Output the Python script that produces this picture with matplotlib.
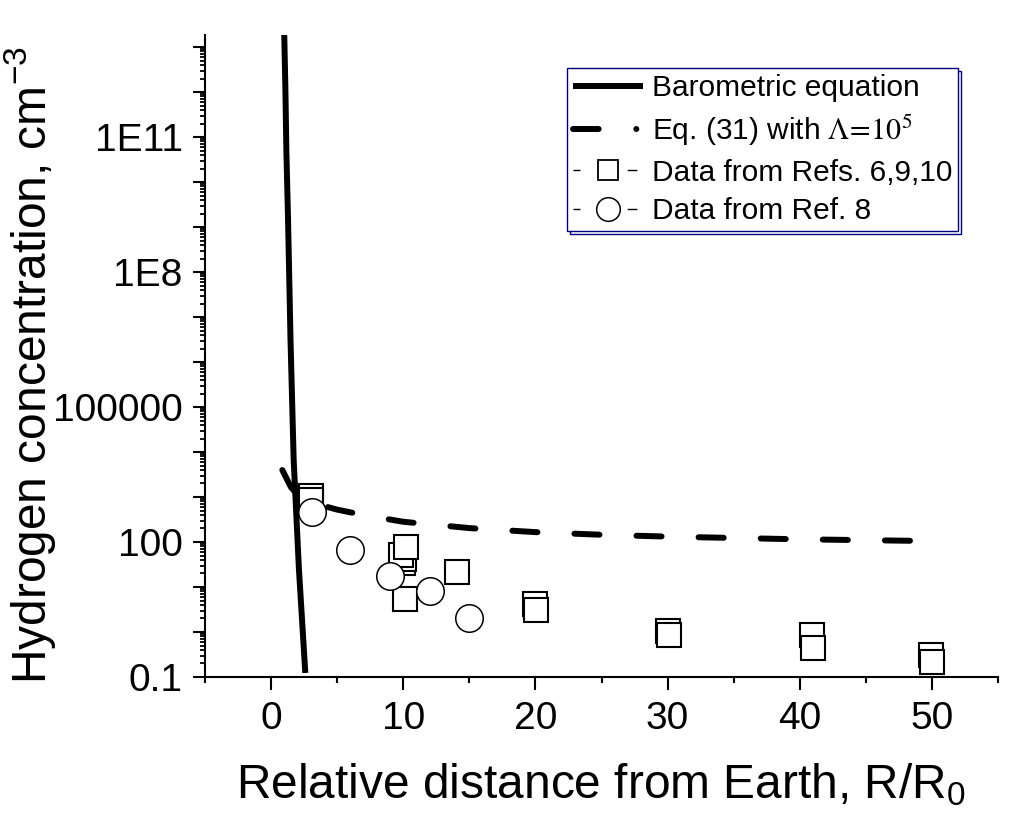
import numpy as np
import matplotlib
matplotlib.use("Agg")
import matplotlib.pyplot as plt
from matplotlib.lines import Line2D
from matplotlib.ticker import FixedLocator, FixedFormatter, LogLocator, MultipleLocator, NullFormatter

plt.rcParams['font.family'] = ['Liberation Sans', 'DejaVu Sans']
plt.rcParams['mathtext.fontset'] = 'stix'

# ---- data ----
baro_x = [0.98, 1.00, 1.08, 1.16, 1.28, 1.47, 1.71, 2.11, 2.59]
baro_y = [3.0e13, 1.66e13, 1.29e12, 4.4e10, 1.66e9, 3.1e6, 6.6e3, 24.0, 0.123]

eq31_x = [0.85, 1.5, 2, 3, 4, 5, 7, 10, 15, 20, 25, 30, 35, 40, 45, 50]
eq31_y = [3981, 1660, 1122, 794, 631, 525, 398, 282, 204, 166, 145, 132, 123, 115, 110, 105]

refs_x = [3.0, 3.0, 9.95, 10.05, 9.85, 10.2, 10.1, 14.05, 19.95, 20.04,
          30.02, 30.14, 40.95, 41.03, 49.92, 50.02]
refs_y = [1070, 870, 34, 43, 52, 77, 5.4, 21.5, 4.2, 3.16,
          1.08, 0.87, 0.86, 0.43, 0.31, 0.22]

ref8_x = [3.1, 6.0, 9.0, 12.0, 15.0]
ref8_y = [464, 65, 17.4, 8.0, 2.1]

labels = ["Barometric equation", r"Eq. (31) with $\Lambda\!=\!10^5$",
          "Data from Refs. 6,9,10", "Data from Ref. 8"]
xlabel = r"Relative distance from Earth, R/R$\mathregular{_0}$"
ylabel = r"Hydrogen concentration, cm$\mathregular{^{-3}}$"

y_major = [10.0 ** k for k in range(-1, 14)]
y_major_labels = ["0.1", "", "", "100", "", "", "100000", "", "", "1E8", "", "", "1E11", "", ""]
x_major = [0, 10, 20, 30, 40, 50]

# ---- figure ----
W, H = 1011, 817
fig = plt.figure(figsize=(W / 100, H / 100), dpi=100)
ax_l, ax_b, ax_w, ax_h = 205 / W, 1 - 677 / H, (998 - 205) / W, (677 - 35) / H
ax = fig.add_axes([ax_l, ax_b, ax_w, ax_h])

ax.plot(baro_x, baro_y, color='black', lw=4.3, solid_capstyle='butt', zorder=3)
ax.plot(eq31_x, eq31_y, color='black', lw=4.3, dash_capstyle='round',
        linestyle=(0, (4.2, 6.2)), zorder=3)
ax.plot(refs_x, refs_y, linestyle='none', marker='s', ms=17.3, mew=1.5,
        mfc='white', mec='black', zorder=4)
ax.plot(ref8_x, ref8_y, linestyle='none', marker='o', ms=19.8, mew=1.1,
        mfc='white', mec='black', zorder=5)

ax.set_yscale('log')
ax.set_xlim(-5, 55)
ax.set_ylim(0.1, 1.86e13)

ax.yaxis.set_major_locator(FixedLocator(y_major))
ax.yaxis.set_major_formatter(FixedFormatter(y_major_labels))
ax.yaxis.set_minor_locator(LogLocator(base=10, subs=np.arange(2, 10), numticks=100))
ax.yaxis.set_minor_formatter(NullFormatter())
ax.xaxis.set_major_locator(FixedLocator(x_major))
ax.xaxis.set_minor_locator(MultipleLocator(5))

for s in ['top', 'right']:
    ax.spines[s].set_visible(False)
for s in ['left', 'bottom']:
    ax.spines[s].set_linewidth(1.5)

ax.tick_params(axis='both', which='major', direction='out', length=9, width=1.5,
               labelsize=28)
ax.tick_params(axis='y', which='major', pad=7)
ax.tick_params(axis='x', which='major', pad=8)
ax.tick_params(axis='y', which='minor', direction='out', length=3.8, width=1.3)
ax.tick_params(axis='x', which='minor', direction='out', length=4.3, width=1.5)

ax.set_xlabel(xlabel, fontsize=34.5, labelpad=18)
ax.set_ylabel(ylabel, fontsize=34.5)
ax.yaxis.set_label_coords((58 - 205) / (998 - 205), (677 - 365) / (677 - 35))

# legend handles
h1 = Line2D([], [], color='black', lw=4.3, solid_capstyle='butt')
h2 = Line2D([], [], color='black', lw=4.3, dash_capstyle='round',
            linestyle=(0, (4.3, 6.3, 0.01, 30)))
h3 = Line2D([], [], color='black', lw=1.0, linestyle=(0, (5, 34, 7, 60)),
            marker='s', ms=14, mew=1.3, mfc='white', mec='black')
h4 = Line2D([], [], color='black', lw=1.0, linestyle=(0, (5, 34, 7, 60)),
            marker='o', ms=17, mew=1.1, mfc='white', mec='black')

leg = ax.legend([h1, h2, h3, h4], labels, loc='upper left',
                bbox_to_anchor=(567 / W, 1 - 68 / H), bbox_transform=fig.transFigure,
                borderaxespad=0, fontsize=21.5, frameon=True, fancybox=False,
                edgecolor='#000080', framealpha=1, borderpad=0.2,
                handlelength=2.35, handletextpad=0.3, labelspacing=0.36,
                shadow={'facecolor': 'none', 'edgecolor': '#000080', 'linewidth': 1.0, 'alpha': 1})
leg.get_frame().set_linewidth(1.0)

fig.savefig('out.png', dpi=100)
